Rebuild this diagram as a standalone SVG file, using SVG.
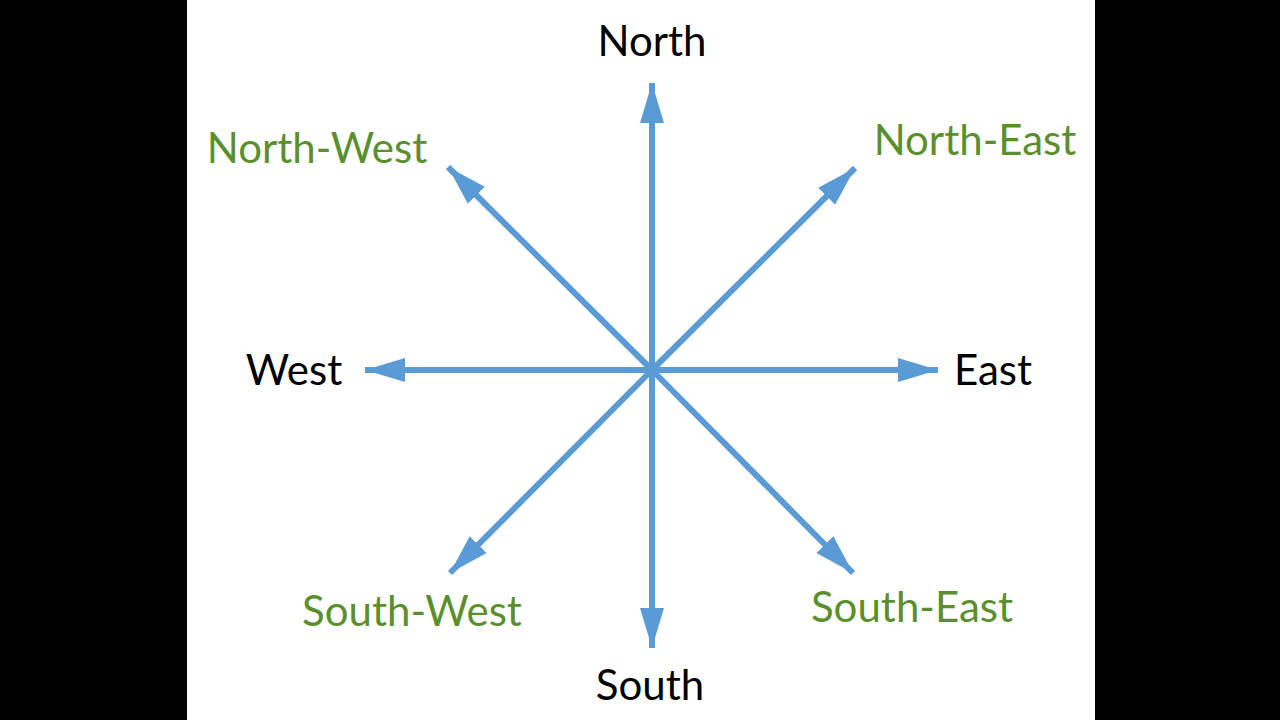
<svg xmlns="http://www.w3.org/2000/svg" width="1280" height="720" viewBox="0 0 1280 720">
<style>
.a{stroke:#5b9bd5;stroke-width:6;fill:none;marker-end:url(#h)}
text{font-family:Lato,"Open Sans","Liberation Sans",sans-serif;font-size:42px;text-anchor:middle}
.k{fill:#000}.g{fill:#5b8f2e}
</style>
<defs><marker id="h" markerUnits="userSpaceOnUse" markerWidth="42" markerHeight="26" refX="40" refY="13" orient="auto"><path d="M0,1 L40,13 L0,25 Z" fill="#5b9bd5"/></marker></defs>
<rect width="1280" height="720" fill="#000"/>
<rect x="187" y="0" width="908" height="720" fill="#fff"/>
<g id="connectors">
<line class="a" x1="652" y1="370" x2="652" y2="83"/>
<line class="a" x1="652" y1="370" x2="652" y2="648"/>
<line class="a" x1="652" y1="370" x2="365" y2="370"/>
<line class="a" x1="652" y1="370" x2="938" y2="370"/>
<line class="a" x1="652" y1="370" x2="855" y2="168"/>
<line class="a" x1="652" y1="370" x2="448" y2="167"/>
<line class="a" x1="652" y1="370" x2="450" y2="573"/>
<line class="a" x1="652" y1="370" x2="853" y2="573"/>
</g>
<g id="north"><text class="k" x="652" y="56">North</text></g>
<g id="south"><text class="k" x="650" y="700">South</text></g>
<g id="west"><text class="k" x="294" y="385">West</text></g>
<g id="east"><text class="k" x="993" y="385">East</text></g>
<g id="north-west"><text class="g" x="317" y="163">North-West</text></g>
<g id="north-east"><text class="g" x="975" y="155">North-East</text></g>
<g id="south-west"><text class="g" x="412" y="626">South-West</text></g>
<g id="south-east"><text class="g" x="912" y="622">South-East</text></g>
</svg>
